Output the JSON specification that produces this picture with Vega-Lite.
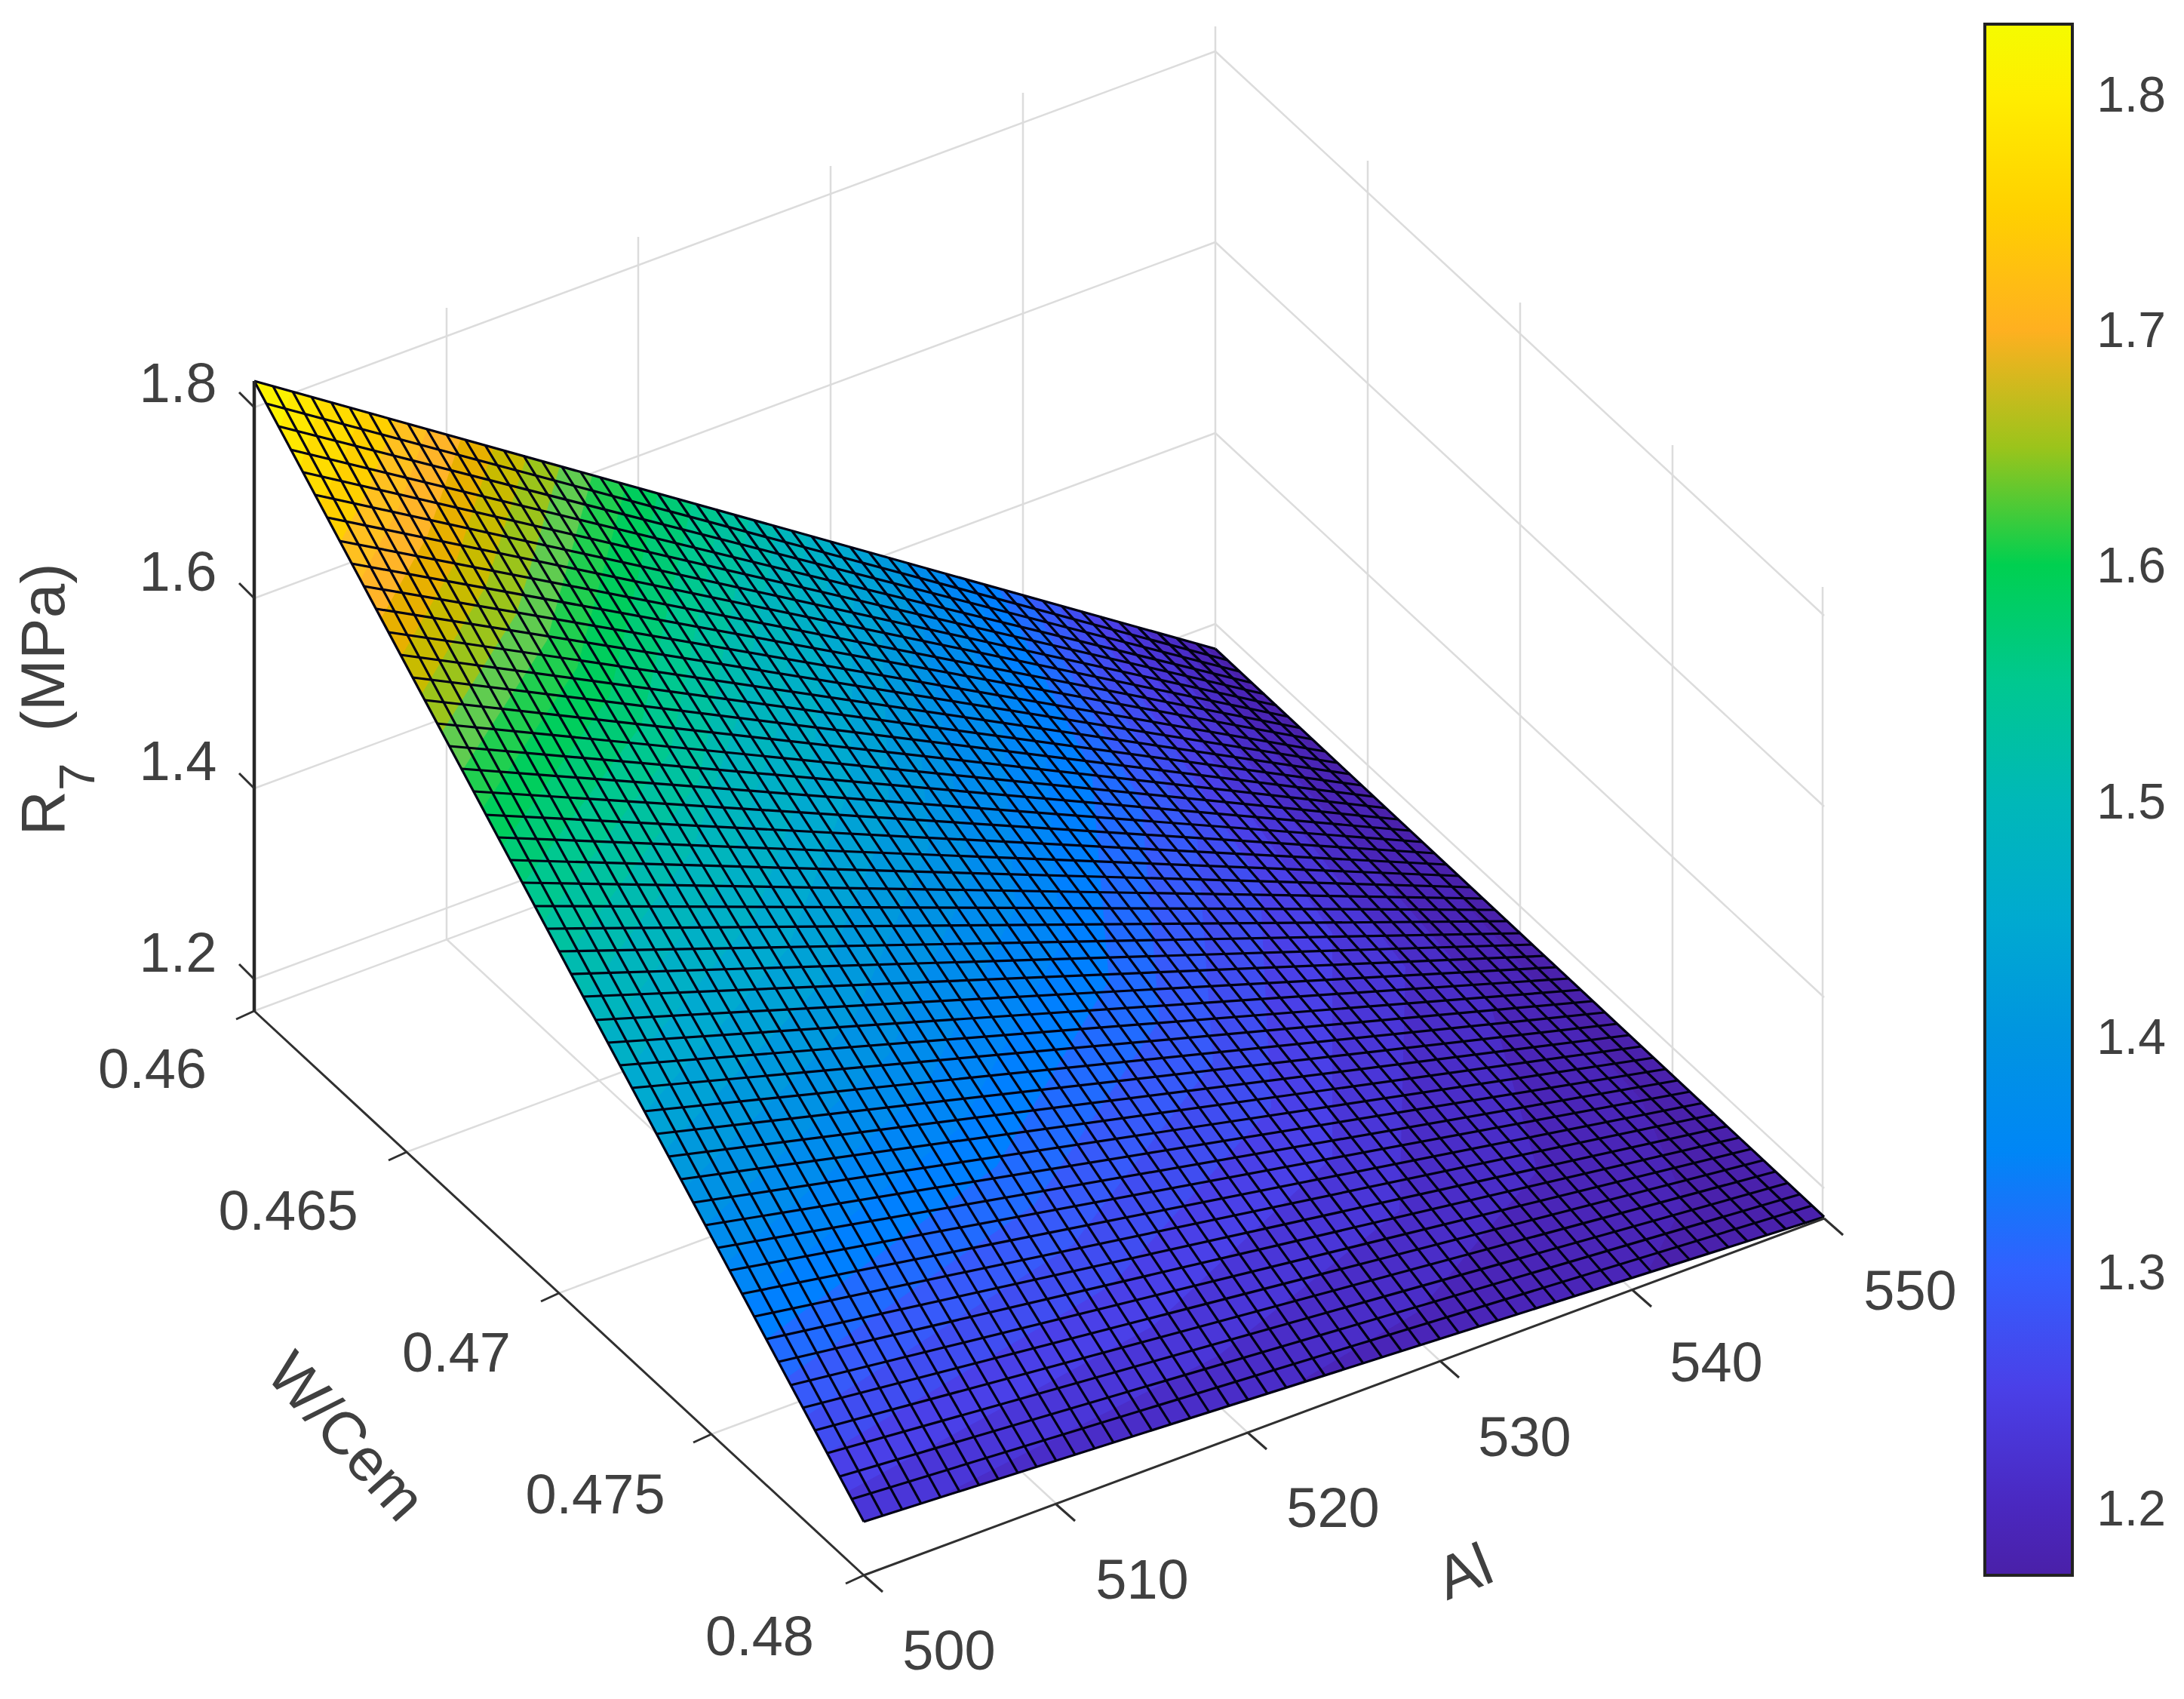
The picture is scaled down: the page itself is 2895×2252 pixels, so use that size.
{"$schema":"https://vega.github.io/schema/vega-lite/v6.json","width":2895,"height":2252,"padding":0,"autosize":{"type":"none"},"background":"white","config":{"view":{"stroke":null},"text":{"font":"Liberation Sans","fill":"#404040"}},
"layer":[
{"data":{"values":[
{"x":337,"y":1298,"x2":1611,"y2":827},{"x":337,"y":1045,"x2":1611,"y2":574},{"x":337,"y":793,"x2":1611,"y2":321},{"x":337,"y":540,"x2":1611,"y2":68},{"x":337,"y":1340,"x2":1611,"y2":867},
{"x":1611,"y":867,"x2":2418,"y2":1615},{"x":1611,"y":827,"x2":2418,"y2":1575},{"x":1611,"y":574,"x2":2418,"y2":1322},{"x":1611,"y":321,"x2":2418,"y2":1069},{"x":1611,"y":68,"x2":2418,"y2":816},
{"x":592,"y":1245,"x2":592,"y2":408},{"x":846,"y":1151,"x2":846,"y2":314},{"x":1101,"y":1056,"x2":1101,"y2":220},{"x":1356,"y":962,"x2":1356,"y2":123},{"x":1611,"y":867,"x2":1611,"y2":35},
{"x":1813,"y":1054,"x2":1813,"y2":213},{"x":2015,"y":1241,"x2":2015,"y2":401},{"x":2217,"y":1428,"x2":2217,"y2":590},{"x":2416,"y":1615,"x2":2416,"y2":778},
{"x":592,"y":1245,"x2":1400,"y2":1993},{"x":846,"y":1151,"x2":1654,"y2":1899},{"x":1101,"y":1056,"x2":1909,"y2":1804},{"x":1356,"y":962,"x2":2164,"y2":1710},
{"x":539,"y":1527,"x2":1813,"y2":1054},{"x":741,"y":1714,"x2":2015,"y2":1241},{"x":943,"y":1901,"x2":2217,"y2":1428}
]},"mark":{"type":"rule","stroke":"#dcdcdc","strokeWidth":2.5},
"encoding":{"x":{"field":"x","type":"quantitative","scale":{"domain":[0,2895],"range":[0,2895]},"axis":null},"y":{"field":"y","type":"quantitative","scale":{"domain":[2252,0],"range":[2252,0]},"axis":null},"x2":{"field":"x2"},"y2":{"field":"y2"}}},
{"data":{"values":[
{"v":1.175,"g":{"type":"Polygon","coordinates":[[[337,505],[1611,860],[2418,1613],[1145,2017],[337,505]]]}},
{"v":1.19,"g":{"type":"Polygon","coordinates":[[[337,505],[1597,856],[1909,1160],[2176,1458],[2233,1593],[2183,1688],[1145,2017],[337,505]]]}},
{"v":1.21,"g":{"type":"Polygon","coordinates":[[[337,505],[1558,845],[1975,1329],[2038,1552],[1881,1738],[1711,1838],[1145,2017],[337,505]]]}},
{"v":1.23,"g":{"type":"Polygon","coordinates":[[[337,505],[1519,834],[1863,1282],[1855,1605],[1615,1797],[1239,1987],[1145,2017],[337,505]]]}},
{"v":1.25,"g":{"type":"Polygon","coordinates":[[[337,505],[1480,824],[1766,1237],[1766,1534],[1528,1758],[1124,1977],[337,505]]]}},
{"v":1.27,"g":{"type":"Polygon","coordinates":[[[337,505],[1441,813],[1670,1168],[1685,1468],[1474,1703],[1097,1926],[337,505]]]}},
{"v":1.29,"g":{"type":"Polygon","coordinates":[[[337,505],[1402,802],[1587,1111],[1608,1408],[1422,1650],[1070,1876],[337,505]]]}},
{"v":1.31,"g":{"type":"Polygon","coordinates":[[[337,505],[1363,791],[1513,1064],[1537,1352],[1371,1597],[1043,1826],[337,505]]]}},
{"v":1.33,"g":{"type":"Polygon","coordinates":[[[337,505],[1324,780],[1447,1022],[1470,1300],[1321,1546],[1016,1775],[337,505]]]}},
{"v":1.35,"g":{"type":"Polygon","coordinates":[[[337,505],[1285,769],[1385,985],[1406,1251],[1272,1495],[989,1725],[337,505]]]}},
{"v":1.37,"g":{"type":"Polygon","coordinates":[[[337,505],[1246,758],[1328,952],[1346,1205],[1224,1446],[962,1675],[337,505]]]}},
{"v":1.39,"g":{"type":"Polygon","coordinates":[[[337,505],[1207,747],[1288,1161],[1178,1398],[935,1624],[337,505]]]}},
{"v":1.41,"g":{"type":"Polygon","coordinates":[[[337,505],[1197,745],[1232,1120],[1132,1350],[908,1574],[337,505]]]}},
{"v":1.43,"g":{"type":"Polygon","coordinates":[[[337,505],[1165,736],[1179,1081],[1088,1304],[882,1524],[337,505]]]}},
{"v":1.45,"g":{"type":"Polygon","coordinates":[[[337,505],[1133,727],[1127,1043],[1044,1258],[855,1474],[337,505]]]}},
{"v":1.47,"g":{"type":"Polygon","coordinates":[[[337,505],[1101,718],[1078,1007],[1001,1214],[828,1423],[337,505]]]}},
{"v":1.49,"g":{"type":"Polygon","coordinates":[[[337,505],[1070,709],[1029,972],[959,1169],[801,1373],[337,505]]]}},
{"v":1.51,"g":{"type":"Polygon","coordinates":[[[337,505],[1031,698],[982,939],[918,1126],[774,1323],[337,505]]]}},
{"v":1.53,"g":{"type":"Polygon","coordinates":[[[337,505],[993,688],[926,1036],[747,1272],[337,505]]]}},
{"v":1.55,"g":{"type":"Polygon","coordinates":[[[337,505],[955,677],[888,998],[720,1222],[337,505]]]}},
{"v":1.57,"g":{"type":"Polygon","coordinates":[[[337,505],[917,667],[850,961],[693,1172],[337,505]]]}},
{"v":1.59,"g":{"type":"Polygon","coordinates":[[[337,505],[872,654],[808,923],[666,1121],[337,505]]]}},
{"v":1.61,"g":{"type":"Polygon","coordinates":[[[337,505],[830,642],[765,885],[640,1071],[337,505]]]}},
{"v":1.63,"g":{"type":"Polygon","coordinates":[[[337,505],[785,630],[725,849],[613,1021],[337,505]]]}},
{"v":1.65,"g":{"type":"Polygon","coordinates":[[[337,505],[742,618],[685,813],[586,970],[337,505]]]}},
{"v":1.67,"g":{"type":"Polygon","coordinates":[[[337,505],[698,605],[644,777],[559,920],[337,505]]]}},
{"v":1.69,"g":{"type":"Polygon","coordinates":[[[337,505],[654,593],[605,743],[532,870],[337,505]]]}},
{"v":1.71,"g":{"type":"Polygon","coordinates":[[[337,505],[611,581],[567,709],[505,820],[337,505]]]}},
{"v":1.73,"g":{"type":"Polygon","coordinates":[[[337,505],[566,569],[528,674],[478,769],[337,505]]]}},
{"v":1.75,"g":{"type":"Polygon","coordinates":[[[337,505],[523,557],[491,642],[451,719],[337,505]]]}},
{"v":1.77,"g":{"type":"Polygon","coordinates":[[[337,505],[480,545],[454,609],[424,669],[337,505]]]}},
{"v":1.79,"g":{"type":"Polygon","coordinates":[[[337,505],[425,530],[412,575],[398,618],[337,505]]]}},
{"v":1.81,"g":{"type":"Polygon","coordinates":[[[337,505],[386,519],[371,568],[337,505]]]}},
{"v":1.825,"g":{"type":"Polygon","coordinates":[[[337,505],[347,508],[344,518],[337,505]]]}}
]},"mark":{"type":"geoshape","strokeWidth":0},"projection":{"type":"identity","scale":1,"translate":[0,0]},
"encoding":{"shape":{"field":"g","type":"geojson"},"color":{"field":"v","type":"quantitative","scale":{"domain":[1.17,1.2,1.25,1.3,1.33,1.4,1.45,1.5,1.55,1.6,1.63,1.66,1.69,1.7,1.72,1.75,1.8,1.83],"range":["#4a20a8","#4a28c0","#4a40e8","#3260ff","#0080ff","#0095e0","#00aad0","#00b8b8","#00c890","#00d050","#60cc50","#b8c000","#e8b000","#ffb020","#ffb830","#ffd000","#ffee00","#f5fb00"],"interpolate":"rgb"},"legend":{"orient":"none","legendX":2631,"legendY":32,"title":null,"direction":"vertical","gradientLength":2056,"gradientThickness":116,"gradientStrokeColor":"#222222","gradientStrokeWidth":4,"labelExpr":"''","labelOpacity":0,"tickCount":7}}}},
{"data":{"values":[
{"x":337,"y":505,"x2":1145,"y2":2017},{"x":362,"y":512,"x2":1170,"y2":2009},{"x":388,"y":519,"x2":1196,"y2":2001},{"x":413,"y":526,"x2":1221,"y2":1993},{"x":439,"y":533,"x2":1247,"y2":1985},{"x":464,"y":541,"x2":1272,"y2":1977},{"x":490,"y":548,"x2":1298,"y2":1969},{"x":515,"y":555,"x2":1323,"y2":1960},{"x":541,"y":562,"x2":1349,"y2":1952},{"x":566,"y":569,"x2":1374,"y2":1944},{"x":592,"y":576,"x2":1400,"y2":1936},{"x":617,"y":583,"x2":1425,"y2":1928},{"x":643,"y":590,"x2":1451,"y2":1920},{"x":668,"y":597,"x2":1476,"y2":1912},{"x":694,"y":604,"x2":1501,"y2":1904},{"x":719,"y":612,"x2":1527,"y2":1896},{"x":745,"y":619,"x2":1552,"y2":1888},{"x":770,"y":626,"x2":1578,"y2":1880},{"x":796,"y":633,"x2":1603,"y2":1872},{"x":821,"y":640,"x2":1629,"y2":1863},{"x":847,"y":647,"x2":1654,"y2":1855},{"x":872,"y":654,"x2":1680,"y2":1847},{"x":898,"y":661,"x2":1705,"y2":1839},{"x":923,"y":668,"x2":1731,"y2":1831},{"x":949,"y":675,"x2":1756,"y2":1823},{"x":974,"y":683,"x2":1782,"y2":1815},{"x":1000,"y":690,"x2":1807,"y2":1807},{"x":1025,"y":697,"x2":1832,"y2":1799},{"x":1050,"y":704,"x2":1858,"y2":1791},{"x":1076,"y":711,"x2":1883,"y2":1783},{"x":1101,"y":718,"x2":1909,"y2":1775},{"x":1127,"y":725,"x2":1934,"y2":1767},{"x":1152,"y":732,"x2":1960,"y2":1758},{"x":1178,"y":739,"x2":1985,"y2":1750},{"x":1203,"y":746,"x2":2011,"y2":1742},{"x":1229,"y":754,"x2":2036,"y2":1734},{"x":1254,"y":761,"x2":2062,"y2":1726},{"x":1280,"y":768,"x2":2087,"y2":1718},{"x":1305,"y":775,"x2":2112,"y2":1710},{"x":1331,"y":782,"x2":2138,"y2":1702},{"x":1356,"y":789,"x2":2163,"y2":1694},{"x":1382,"y":796,"x2":2189,"y2":1686},{"x":1407,"y":803,"x2":2214,"y2":1678},{"x":1433,"y":810,"x2":2240,"y2":1670},{"x":1458,"y":817,"x2":2265,"y2":1661},{"x":1484,"y":825,"x2":2291,"y2":1653},{"x":1509,"y":832,"x2":2316,"y2":1645},{"x":1535,"y":839,"x2":2342,"y2":1637},{"x":1560,"y":846,"x2":2367,"y2":1629},{"x":1586,"y":853,"x2":2393,"y2":1621},{"x":1611,"y":860,"x2":2418,"y2":1613},
{"x":337,"y":505,"x2":1611,"y2":860},{"x":353,"y":535,"x2":1627,"y2":875},{"x":369,"y":565,"x2":1643,"y2":890},{"x":385,"y":596,"x2":1659,"y2":905},{"x":402,"y":626,"x2":1676,"y2":920},{"x":418,"y":656,"x2":1692,"y2":935},{"x":434,"y":686,"x2":1708,"y2":950},{"x":450,"y":717,"x2":1724,"y2":965},{"x":466,"y":747,"x2":1740,"y2":980},{"x":482,"y":777,"x2":1756,"y2":996},{"x":499,"y":807,"x2":1772,"y2":1011},{"x":515,"y":838,"x2":1789,"y2":1026},{"x":531,"y":868,"x2":1805,"y2":1041},{"x":547,"y":898,"x2":1821,"y2":1056},{"x":563,"y":928,"x2":1837,"y2":1071},{"x":579,"y":959,"x2":1853,"y2":1086},{"x":596,"y":989,"x2":1869,"y2":1101},{"x":612,"y":1019,"x2":1885,"y2":1116},{"x":628,"y":1049,"x2":1902,"y2":1131},{"x":644,"y":1080,"x2":1918,"y2":1146},{"x":660,"y":1110,"x2":1934,"y2":1161},{"x":676,"y":1140,"x2":1950,"y2":1176},{"x":693,"y":1170,"x2":1966,"y2":1191},{"x":709,"y":1201,"x2":1982,"y2":1206},{"x":725,"y":1231,"x2":1998,"y2":1221},{"x":741,"y":1261,"x2":2015,"y2":1237},{"x":757,"y":1291,"x2":2031,"y2":1252},{"x":773,"y":1321,"x2":2047,"y2":1267},{"x":789,"y":1352,"x2":2063,"y2":1282},{"x":806,"y":1382,"x2":2079,"y2":1297},{"x":822,"y":1412,"x2":2095,"y2":1312},{"x":838,"y":1442,"x2":2111,"y2":1327},{"x":854,"y":1473,"x2":2127,"y2":1342},{"x":870,"y":1503,"x2":2144,"y2":1357},{"x":886,"y":1533,"x2":2160,"y2":1372},{"x":903,"y":1563,"x2":2176,"y2":1387},{"x":919,"y":1594,"x2":2192,"y2":1402},{"x":935,"y":1624,"x2":2208,"y2":1417},{"x":951,"y":1654,"x2":2224,"y2":1432},{"x":967,"y":1684,"x2":2240,"y2":1447},{"x":983,"y":1715,"x2":2257,"y2":1462},{"x":1000,"y":1745,"x2":2273,"y2":1477},{"x":1016,"y":1775,"x2":2289,"y2":1493},{"x":1032,"y":1805,"x2":2305,"y2":1508},{"x":1048,"y":1836,"x2":2321,"y2":1523},{"x":1064,"y":1866,"x2":2337,"y2":1538},{"x":1080,"y":1896,"x2":2353,"y2":1553},{"x":1097,"y":1926,"x2":2370,"y2":1568},{"x":1113,"y":1957,"x2":2386,"y2":1583},{"x":1129,"y":1987,"x2":2402,"y2":1598},{"x":1145,"y":2017,"x2":2418,"y2":1613}
]},"mark":{"type":"rule","stroke":"#000014","strokeWidth":3.2},
"encoding":{"x":{"field":"x","type":"quantitative","scale":{"domain":[0,2895],"range":[0,2895]},"axis":null},"y":{"field":"y","type":"quantitative","scale":{"domain":[2252,0],"range":[2252,0]},"axis":null},"x2":{"field":"x2"},"y2":{"field":"y2"}}},
{"data":{"values":[{"x":337,"y":1340,"x2":337,"y2":505}]},"mark":{"type":"rule","stroke":"#262626","strokeWidth":4.5},
"encoding":{"x":{"field":"x","type":"quantitative","scale":{"domain":[0,2895],"range":[0,2895]},"axis":null},"y":{"field":"y","type":"quantitative","scale":{"domain":[2252,0],"range":[2252,0]},"axis":null},"x2":{"field":"x2"},"y2":{"field":"y2"}}},
{"data":{"values":[
{"x":337,"y":1340,"x2":1145,"y2":2088},{"x":1145,"y":2088,"x2":2418,"y2":1615},
{"x":337,"y":1298,"x2":317,"y2":1278},{"x":337,"y":1045,"x2":317,"y2":1025},{"x":337,"y":793,"x2":317,"y2":773},{"x":337,"y":540,"x2":317,"y2":520},
{"x":337,"y":1340,"x2":313,"y2":1351},{"x":539,"y":1527,"x2":515,"y2":1538},{"x":741,"y":1714,"x2":717,"y2":1725},{"x":943,"y":1901,"x2":919,"y2":1912},{"x":1145,"y":2088,"x2":1121,"y2":2099},
{"x":1145,"y":2088,"x2":1170,"y2":2110},{"x":1400,"y":1994,"x2":1425,"y2":2016},{"x":1654,"y":1899,"x2":1679,"y2":1921},{"x":1909,"y":1804,"x2":1934,"y2":1826},{"x":2164,"y":1710,"x2":2189,"y2":1732},{"x":2418,"y":1615,"x2":2443,"y2":1637}
]},"mark":{"type":"rule","stroke":"#303030","strokeWidth":3},
"encoding":{"x":{"field":"x","type":"quantitative","scale":{"domain":[0,2895],"range":[0,2895]},"axis":null},"y":{"field":"y","type":"quantitative","scale":{"domain":[2252,0],"range":[2252,0]},"axis":null},"x2":{"field":"x2"},"y2":{"field":"y2"}}},
{"data":{"values":[
{"x":236,"y":511,"t":"1.8"},{"x":236,"y":761,"t":"1.6"},{"x":236,"y":1012,"t":"1.4"},{"x":236,"y":1266,"t":"1.2"},
{"x":202,"y":1420,"t":"0.46"},{"x":382,"y":1608,"t":"0.465"},{"x":605,"y":1796,"t":"0.47"},{"x":789,"y":1984,"t":"0.475"},{"x":1007,"y":2172,"t":"0.48"},
{"x":1258,"y":2191,"t":"500"},{"x":1514,"y":2097,"t":"510"},{"x":1767,"y":2002,"t":"520"},{"x":2021,"y":1908,"t":"530"},{"x":2275,"y":1809,"t":"540"},{"x":2532,"y":1714,"t":"550"}
]},"mark":{"type":"text","fontSize":74,"align":"center","baseline":"middle"},
"encoding":{"x":{"field":"x","type":"quantitative","scale":{"domain":[0,2895],"range":[0,2895]},"axis":null},"y":{"field":"y","type":"quantitative","scale":{"domain":[2252,0],"range":[2252,0]},"axis":null},"text":{"field":"t"}}},
{"data":{"values":[
{"x":2825,"y":128,"t":"1.8"},{"x":2825,"y":440,"t":"1.7"},{"x":2825,"y":752,"t":"1.6"},{"x":2825,"y":1065,"t":"1.5"},{"x":2825,"y":1377,"t":"1.4"},{"x":2825,"y":1689,"t":"1.3"},{"x":2825,"y":2002,"t":"1.2"}
]},"mark":{"type":"text","fontSize":66,"align":"center","baseline":"middle"},
"encoding":{"x":{"field":"x","type":"quantitative","scale":{"domain":[0,2895],"range":[0,2895]},"axis":null},"y":{"field":"y","type":"quantitative","scale":{"domain":[2252,0],"range":[2252,0]},"axis":null},"text":{"field":"t"}}},
{"data":{"values":[{"x":85,"y":858,"t":"(MPa)"},{"x":85,"y":1078,"t":"R"}]},"mark":{"type":"text","fontSize":82,"align":"center","baseline":"alphabetic","angle":270},
"encoding":{"x":{"field":"x","type":"quantitative","scale":{"domain":[0,2895],"range":[0,2895]},"axis":null},"y":{"field":"y","type":"quantitative","scale":{"domain":[2252,0],"range":[2252,0]},"axis":null},"text":{"field":"t"}}},
{"data":{"values":[{"x":125,"y":1030,"t":"7"}]},"mark":{"type":"text","fontSize":66,"align":"center","baseline":"alphabetic","angle":270},
"encoding":{"x":{"field":"x","type":"quantitative","scale":{"domain":[0,2895],"range":[0,2895]},"axis":null},"y":{"field":"y","type":"quantitative","scale":{"domain":[2252,0],"range":[2252,0]},"axis":null},"text":{"field":"t"}}},
{"data":{"values":[{"x":457,"y":1906,"t":"W/Cem"}]},"mark":{"type":"text","fontSize":80,"align":"center","baseline":"middle","angle":48},
"encoding":{"x":{"field":"x","type":"quantitative","scale":{"domain":[0,2895],"range":[0,2895]},"axis":null},"y":{"field":"y","type":"quantitative","scale":{"domain":[2252,0],"range":[2252,0]},"axis":null},"text":{"field":"t"}}},
{"data":{"values":[{"x":1942,"y":2086,"t":"Al"}]},"mark":{"type":"text","fontSize":80,"align":"center","baseline":"middle","angle":338},
"encoding":{"x":{"field":"x","type":"quantitative","scale":{"domain":[0,2895],"range":[0,2895]},"axis":null},"y":{"field":"y","type":"quantitative","scale":{"domain":[2252,0],"range":[2252,0]},"axis":null},"text":{"field":"t"}}}
]}
